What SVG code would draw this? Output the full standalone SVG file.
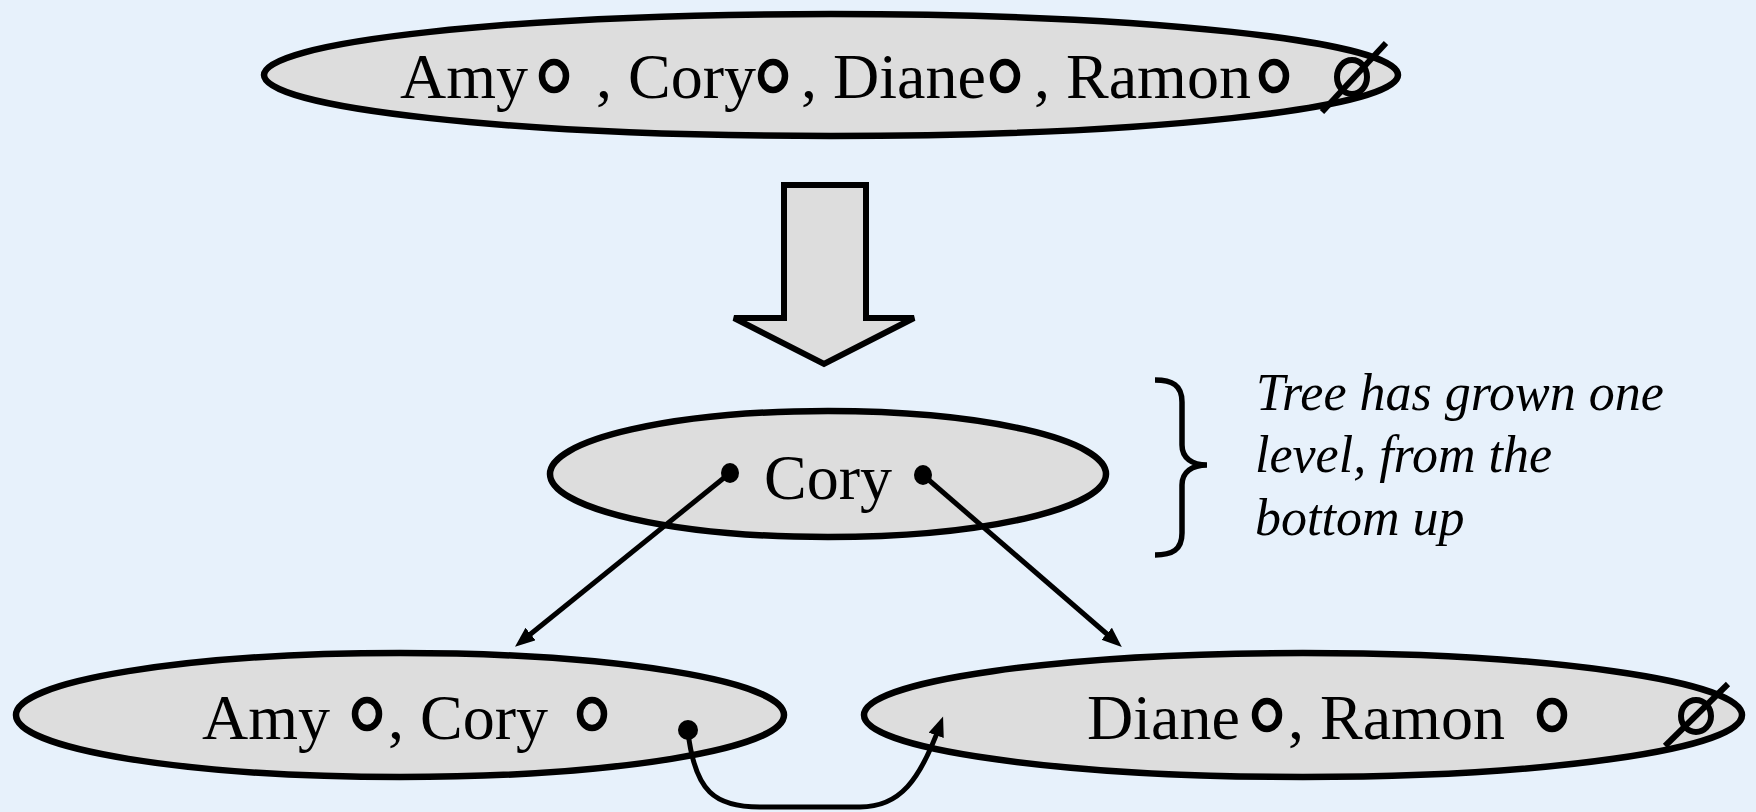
<svg xmlns="http://www.w3.org/2000/svg" width="1756" height="812" viewBox="0 0 1756 812">
<defs>
<style>
.node{fill:#dddddd;stroke:#000;stroke-width:6.5}
.lbl{font-family:"Liberation Serif","Times New Roman",serif;font-size:64px;fill:#000}
.note{font-family:"Liberation Serif","Times New Roman",serif;font-size:52px;font-style:italic;fill:#000}
.ring{fill:none;stroke:#000;stroke-width:6.5}
.nul{fill:none;stroke:#000;stroke-width:6}
.dot{fill:#000}
.conn{fill:none;stroke:#000;stroke-width:5}
</style>
<marker id="ah" markerUnits="userSpaceOnUse" markerWidth="22" markerHeight="18" refX="11" refY="8" orient="auto">
<path d="M0,0 L20,8 L0,16 z" fill="#000"/>
</marker>
</defs>
<rect x="0" y="0" width="1756" height="812" fill="#e7f1fb"/>

<g id="node-top">
<ellipse class="node" cx="831" cy="75" rx="567" ry="61"/>
<text class="lbl" x="400" y="98">Amy</text>
<ellipse class="ring" cx="554" cy="76" rx="12" ry="14"/>
<text class="lbl" x="596" y="98">, Cory</text>
<ellipse class="ring" cx="773" cy="76" rx="12" ry="14"/>
<text class="lbl" x="801" y="98">, Diane</text>
<ellipse class="ring" cx="1005" cy="76" rx="12" ry="14"/>
<text class="lbl" x="1034" y="98">, Ramon</text>
<ellipse class="ring" cx="1274" cy="76" rx="12" ry="14"/>
<ellipse class="nul" cx="1352" cy="77" rx="15" ry="17"/>
<line class="nul" x1="1322" y1="112" x2="1386" y2="43"/>
</g>

<g id="big-arrow">
<polygon points="784,185 866,185 866,318 914,318 824,364 734,318 784,318" fill="#dddddd" stroke="#000" stroke-width="6"/>
</g>

<g id="node-cory">
<ellipse class="node" cx="828" cy="474" rx="278" ry="63"/>
<text class="lbl" x="764" y="499">Cory</text>
<ellipse class="dot" cx="730" cy="473" rx="9" ry="10"/>
<ellipse class="dot" cx="923" cy="475" rx="9" ry="10"/>
</g>

<g id="note">
<path d="M1155,380 C1172,380 1182,385 1182,402 L1182,445 C1182,458 1192,465 1207,465 C1192,465 1182,472 1182,485 L1182,533 C1182,550 1172,555 1155,555" fill="none" stroke="#000" stroke-width="5.5"/>
<text class="note" x="1256" y="410">Tree has grown one</text>
<text class="note" x="1255" y="472">level, from the</text>
<text class="note" x="1255" y="535">bottom up</text>
</g>

<g id="node-left">
<ellipse class="node" cx="400" cy="715" rx="384" ry="62"/>
<text class="lbl" x="202" y="739">Amy</text>
<ellipse class="ring" cx="367" cy="714" rx="12" ry="14"/>
<text class="lbl" x="388" y="739">, Cory</text>
<ellipse class="ring" cx="592" cy="714" rx="12" ry="14"/>
<circle class="dot" cx="688" cy="730" r="10"/>
</g>

<g id="node-right">
<ellipse class="node" cx="1303" cy="715" rx="439" ry="62"/>
<text class="lbl" x="1087" y="739">Diane</text>
<ellipse class="ring" cx="1267" cy="715" rx="12" ry="14"/>
<text class="lbl" x="1288" y="739">, Ramon</text>
<ellipse class="ring" cx="1552" cy="715" rx="12" ry="14"/>
<ellipse class="nul" cx="1696" cy="716" rx="15" ry="16"/>
<line class="nul" x1="1665" y1="746" x2="1728" y2="684"/>
</g>

<g id="connectors">
<line class="conn" x1="730" y1="473" x2="522" y2="641" marker-end="url(#ah)"/>
<line class="conn" x1="923" y1="475" x2="1115" y2="641" marker-end="url(#ah)"/>
<path class="conn" d="M688,732 C695,792 715,807 760,807 L860,807 C900,807 920,780 940,725" marker-end="url(#ah)"/>
</g>
</svg>
